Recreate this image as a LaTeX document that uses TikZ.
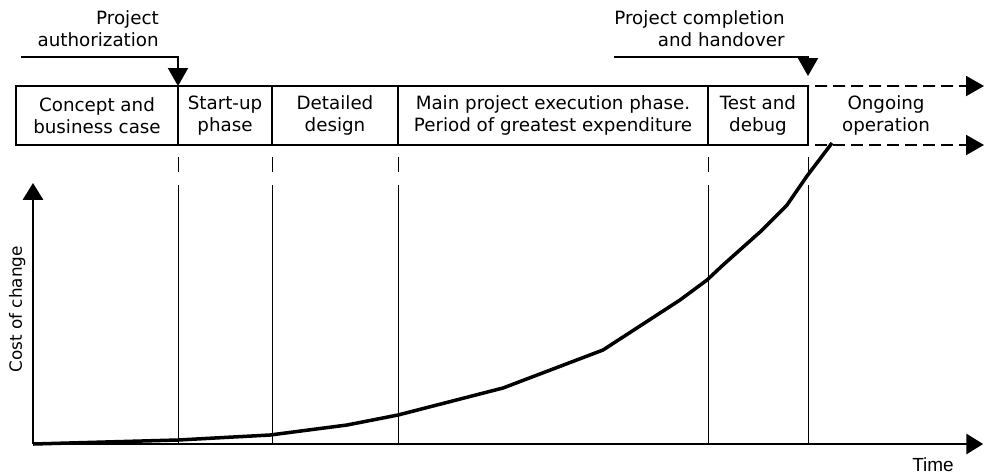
\documentclass[tikz,border=0pt]{standalone}
\usepackage{fontspec}
\setmainfont{DejaVu Sans}
\newfontfamily\axisfont{Liberation Sans}
\usetikzlibrary{positioning,arrows.meta}

\begin{document}
\begin{tikzpicture}[every node/.style={font=\fontsize{13}{15.6}\selectfont},
    phase/.style={draw,line width=1.2pt,align=center,minimum height=1.475cm,inner sep=0pt,outer sep=0pt},
    flow/.style={line width=1.4pt,-{Triangle[width=0.5cm,length=0.45cm]}},
    axis/.style={line width=1.8pt,-{Triangle[width=0.5cm,length=0.42cm]}},
    guide/.style={line width=0.6pt,dash pattern=on 0.375cm off 0.325cm on 9cm}]
\useasboundingbox (0,0) rectangle (24.6,-11.85);
% phases
\node[phase,minimum width=4.05cm] (concept) at (2.425,-2.8875) {Concept and\\business case};
\node[phase,minimum width=2.35cm,right=0pt of concept] (startup) {Start-up\\phase};
\node[phase,minimum width=3.15cm,right=0pt of startup] (detailed) {Detailed\\design};
\node[phase,minimum width=7.75cm,right=0pt of detailed] (execution) {Main project execution phase.\\Period of greatest expenditure};
\node[phase,minimum width=2.5cm,right=0pt of execution] (test) {Test and\\debug};
\node[align=center] (ongoing) at (22.15,-2.8875) {Ongoing\\operation};
% milestones
\node[align=right,anchor=east,inner sep=0pt] (auth) at (3.975,-0.725) {Project\\authorization};
\node[align=right,anchor=east,inner sep=0pt] (handover) at (19.625,-0.725) {Project completion\\and handover};
\coordinate (authstart) at (0.525,-1.425);
\coordinate (donestart) at (15.35,-1.425);
\draw[flow] (authstart) -| (startup.north west);
\draw[flow] (donestart) -| ([yshift=0.25cm]test.north east);
% ongoing arrows
\coordinate (optop) at (24.6,-2.15);
\coordinate (opbot) at (24.6,-3.625);
\draw[flow,dash pattern=on 0.3cm off 0.15cm] ([xshift=-1.625cm]test.north east) -- (optop);
\draw[flow,dash pattern=on 0.3cm off 0.15cm] ([xshift=-1.625cm]test.south east) -- (opbot);
% axes
\coordinate (origin) at (0.825,-11.1);
\coordinate (ytop) at (0.825,-4.575);
\coordinate (xend) at (24.58,-11.1);
\foreach \p in {concept,startup,detailed,execution,test}
  \draw[guide] ([yshift=-0.3cm]\p.south east) -- (\p.south east |- origin);
\draw[axis] (origin) -- (ytop);
\draw[axis] (origin) -- (xend);
\node[rotate=90,font=\fontsize{12}{14}\selectfont] (cost) at (0.43,-7.73) {Cost of change};
\node[anchor=east,inner sep=0pt,font=\fontsize{13.5}{15}\axisfont] (time) at (23.85,-11.625) {Time};
% cost curve
\draw[line width=2.5pt,line join=round] (origin) -- (4.45,-11.0) -- (6.75,-10.875) -- (8.675,-10.625)
  -- (9.95,-10.375) -- (12.575,-9.7) -- (15.075,-8.75) -- (17.0,-7.5) -- (17.675,-7.0)
  -- (18.075,-6.625) -- (19.0,-5.8) -- (19.675,-5.125) -- (20.175,-4.4) -- (20.8,-3.575);
\end{tikzpicture}
\end{document}
